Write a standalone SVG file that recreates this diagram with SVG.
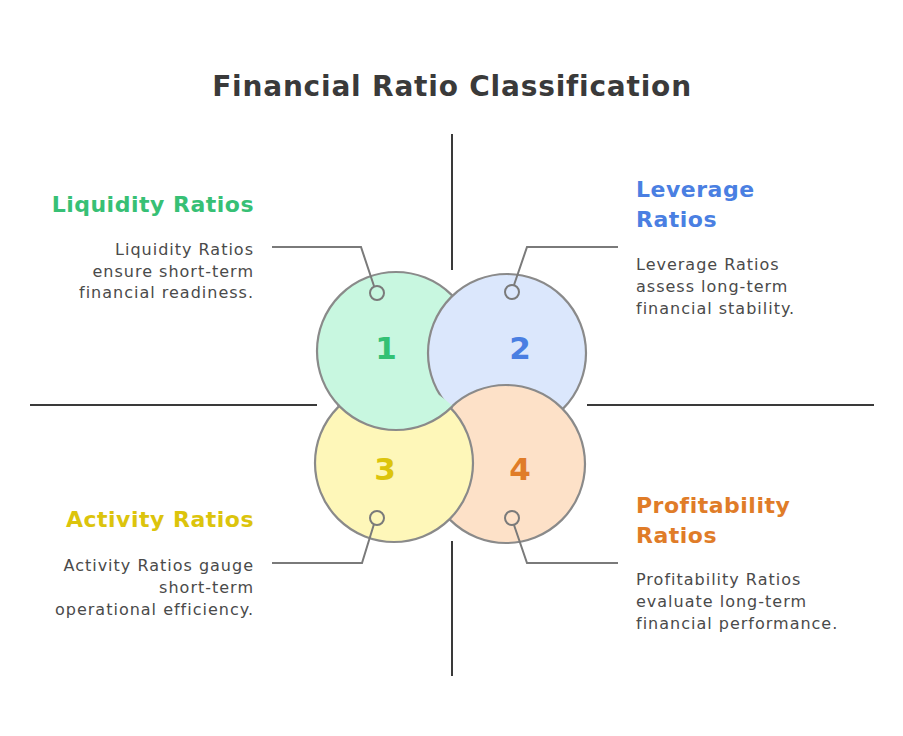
<svg xmlns="http://www.w3.org/2000/svg" width="903" height="736" viewBox="0 0 903 736">
<style>
.ax{stroke:#3a3a3a;stroke-width:2;fill:none}
.ld{stroke:#7a7a7a;stroke-width:2;fill:none}
.c{stroke:#8a8a8a;stroke-width:2.2}
.anc{fill:none;stroke:#7a7a7a;stroke-width:2}
.num{font-family:"DejaVu Sans","Liberation Sans",sans-serif;font-weight:bold;font-size:31px;text-anchor:middle}
.hd{font-family:"DejaVu Sans","Liberation Sans",sans-serif;font-weight:bold;font-size:22px;letter-spacing:0.5px}
.bd{font-family:"DejaVu Sans","Liberation Sans",sans-serif;font-size:16px;fill:#4a4a4a;letter-spacing:1px}
.r{text-anchor:end}
</style>
<defs>
<clipPath id="clip3"><circle cx="394" cy="463" r="81.5"/></clipPath>
</defs>
<rect width="903" height="736" fill="#ffffff"/>
<text x="452" y="96" text-anchor="middle" font-family="'DejaVu Sans','Liberation Sans',sans-serif" font-weight="bold" font-size="28" letter-spacing="0.8" fill="#3a3a3a">Financial Ratio Classification</text>
<g id="axes">
<line class="ax" x1="452" y1="134" x2="452" y2="270"/>
<line class="ax" x1="452" y1="541" x2="452" y2="676"/>
<line class="ax" x1="30" y1="405" x2="317" y2="405"/>
<line class="ax" x1="587" y1="405" x2="874" y2="405"/>
</g>
<g id="circles">
<g id="node1"><circle class="c" cx="396" cy="351" r="79" fill="#c8f7e0"/></g>
<g id="node2"><circle class="c" cx="507" cy="353" r="79" fill="#dbe7fc"/></g>
<g id="node4"><circle class="c" cx="506" cy="464" r="79" fill="#fde1c8"/></g>
<g id="node3"><circle class="c" cx="394" cy="463" r="79" fill="#fef7b9"/></g>
<g id="node1-overlap" clip-path="url(#clip3)"><circle class="c" cx="396" cy="351" r="79" fill="#c8f7e0"/></g>
<text class="num" x="386" y="359" fill="#33c174">1</text>
<text class="num" x="520" y="359" fill="#4a7fe2">2</text>
<text class="num" x="385" y="480" fill="#dcc40c">3</text>
<text class="num" x="520" y="480" fill="#e07c28">4</text>
</g>
<g id="connectors">
<polyline class="ld" points="272,247 361,247 374,286"/>
<circle class="anc" cx="377" cy="293" r="7" fill="#c8f7e0"/>
<polyline class="ld" points="618,247 527,247 514,285"/>
<circle class="anc" cx="512" cy="292" r="7" fill="#dbe7fc"/>
<polyline class="ld" points="272,563 362,563 374,524"/>
<circle class="anc" cx="377" cy="518" r="7" fill="#fef7b9"/>
<polyline class="ld" points="618,563 527,563 514,525"/>
<circle class="anc" cx="512" cy="518" r="7" fill="#fde1c8"/>
</g>
<g id="label1">
<text class="hd r" x="254" y="212" fill="#37c075">Liquidity Ratios</text>
<text class="bd r" x="254" y="255">Liquidity Ratios</text>
<text class="bd r" x="254" y="277">ensure short-term</text>
<text class="bd r" x="254" y="298">financial readiness.</text>
</g>
<g id="label2">
<text class="hd" x="636" y="197" fill="#4a7fe2">Leverage</text>
<text class="hd" x="636" y="227" fill="#4a7fe2">Ratios</text>
<text class="bd" x="636" y="270">Leverage Ratios</text>
<text class="bd" x="636" y="292">assess long-term</text>
<text class="bd" x="636" y="314">financial stability.</text>
</g>
<g id="label3">
<text class="hd r" x="254" y="527" fill="#dcc40c">Activity Ratios</text>
<text class="bd r" x="254" y="571">Activity Ratios gauge</text>
<text class="bd r" x="254" y="593">short-term</text>
<text class="bd r" x="254" y="615">operational efficiency.</text>
</g>
<g id="label4">
<text class="hd" x="636" y="513" fill="#e07c28">Profitability</text>
<text class="hd" x="636" y="543" fill="#e07c28">Ratios</text>
<text class="bd" x="636" y="585">Profitability Ratios</text>
<text class="bd" x="636" y="607">evaluate long-term</text>
<text class="bd" x="636" y="629">financial performance.</text>
</g>
</svg>
